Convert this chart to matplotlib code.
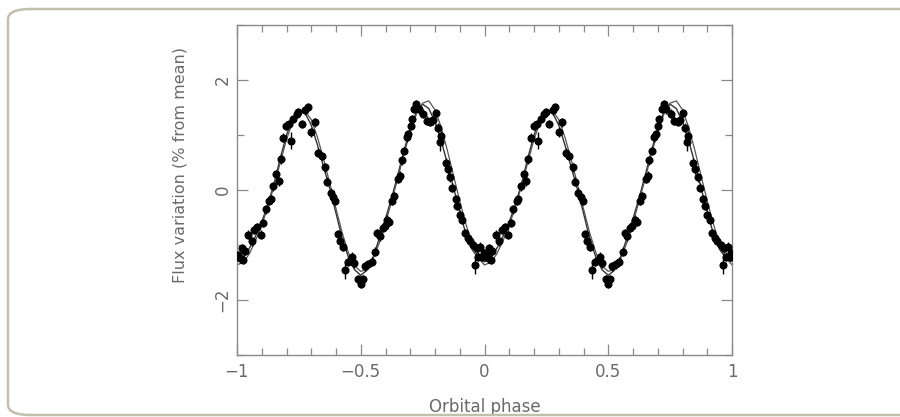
import matplotlib
matplotlib.use("Agg")
import matplotlib.pyplot as plt
from matplotlib.patches import FancyBboxPatch
from matplotlib.ticker import MultipleLocator, FixedLocator

# ---- data (one orbital cycle, phase -1..0; the figure shows it twice) ----
phase = [-0.995, -0.986, -0.981, -0.975, -0.968, -0.954, -0.941, -0.931, -0.918, -0.904,
         -0.894, -0.883, -0.869, -0.863, -0.853, -0.842, -0.832, -0.823, -0.813, -0.802,
         -0.789, -0.783, -0.772, -0.759, -0.752, -0.739, -0.725, -0.714, -0.701, -0.685,
         -0.672, -0.658, -0.644, -0.635, -0.621, -0.611, -0.604, -0.593, -0.584, -0.573,
         -0.564, -0.553, -0.534, -0.527, -0.510, -0.500, -0.492, -0.483, -0.469, -0.456,
         -0.442, -0.433, -0.424, -0.412, -0.404, -0.392, -0.385, -0.372, -0.364, -0.348,
         -0.341, -0.335, -0.325, -0.314, -0.308, -0.298, -0.294, -0.284, -0.276, -0.265,
         -0.247, -0.234, -0.220, -0.210, -0.197, -0.189, -0.180, -0.176, -0.157, -0.149,
         -0.139, -0.130, -0.116, -0.110, -0.099, -0.089, -0.079, -0.068, -0.059, -0.045,
         -0.038, -0.031, -0.025, -0.018, -0.009, -0.004]
flux = [-1.18, -1.24, -1.06, -1.27, -1.10, -0.81, -0.93, -0.72, -0.68, -0.81,
        -0.60, -0.35, -0.20, -0.17, 0.07, 0.29, 0.16, 0.56, 0.95, 1.17,
        1.20, 0.90, 1.29, 1.39, 1.42, 1.20, 1.45, 1.51, 1.05, 1.23,
        0.68, 0.62, 0.41, 0.15, -0.05, -0.13, -0.20, -0.80, -0.93, -1.03,
        -1.45, -1.30, -1.21, -1.33, -1.62, -1.70, -1.62, -1.39, -1.35, -1.30,
        -1.12, -0.79, -0.84, -0.69, -0.66, -0.54, -0.58, -0.20, -0.11, 0.20,
        0.26, 0.54, 0.71, 0.96, 1.02, 1.17, 1.29, 1.48, 1.56, 1.47,
        1.39, 1.26, 1.24, 1.27, 1.40, 1.13, 0.87, 0.99, 0.50, 0.38,
        0.23, 0.04, -0.17, -0.29, -0.45, -0.54, -0.78, -0.87, -0.93, -1.00,
        -1.36, -1.06, -1.21, -1.03, -1.21, -1.15]
flux_err = [0.08] * len(phase)
for i, p in enumerate(phase):
    if p in (-0.564, -0.038, -0.180, -0.783):
        flux_err[i] = 0.16

# ---- model curves, sampled every 0.025 in phase over one cycle ----
model_phase = [k * 0.025 for k in range(41)]
model_a = [-1.30, -1.24, -1.06, -0.84, -0.58, -0.26, 0.12, 0.58, 1.00, 1.30,
           1.44, 1.40, 1.18, 0.82, 0.42, 0.02, -0.42, -0.88, -1.22, -1.45,
           -1.55, -1.46, -1.22, -0.88, -0.52, -0.14, 0.28, 0.72, 1.12, 1.42,
           1.56, 1.48, 1.24, 0.90, 0.48, 0.04, -0.40, -0.80, -1.08, -1.24,
           -1.30]
model_b = [-1.36, -1.32, -1.16, -0.92, -0.64, -0.30, 0.08, 0.50, 0.92, 1.24,
           1.42, 1.44, 1.28, 0.96, 0.56, 0.12, -0.34, -0.78, -1.14, -1.38,
           -1.48, -1.44, -1.26, -0.96, -0.60, -0.20, 0.22, 0.66, 1.06, 1.38,
           1.58, 1.62, 1.46, 1.14, 0.72, 0.26, -0.20, -0.62, -0.98, -1.24,
           -1.36]

xticks = [-1, -0.5, 0, 0.5, 1]
xticklabels = ["\u22121", "\u22120.5", "0", "0.5", "1"]
yticks = [-2, 0, 2]
yticklabels = ["\u22122", "0", "2"]

TXT = "#6a6a6a"
AX = "#8a8a8a"

fig = plt.figure(figsize=(9, 4.17), dpi=100)
fig.patch.set_facecolor("white")

# rounded frame around the figure
W, H = 900.0, 417.0
frame = FancyBboxPatch((8 / W, 2 / H), 960 / W, 406 / H,
                       boxstyle="round,pad=0,rounding_size=0.025",
                       transform=fig.transFigure, fill=False,
                       edgecolor="#c2bfad", linewidth=1.8, clip_on=False)
fig.patches.append(frame)

ax = fig.add_axes([237 / W, 1 - 355 / H, 495 / W, 330 / H])

for shift in (-1, 0):
    ax.plot([p + shift for p in model_phase], model_a, color="#333333", lw=1.0, zorder=2)
    ax.plot([p + shift for p in model_phase], model_b, color="#555555", lw=0.9, zorder=2)
for shift in (0, 1):
    ax.errorbar([p + shift for p in phase], flux, yerr=flux_err, fmt="o",
                color="black", ms=4.8, elinewidth=1.0, capsize=0, zorder=3)

ax.set_xlim(-1, 1)
ax.set_ylim(-3, 3)
ax.xaxis.set_major_locator(FixedLocator(xticks))
ax.set_xticklabels(xticklabels)
ax.xaxis.set_minor_locator(MultipleLocator(0.1))
ax.yaxis.set_major_locator(FixedLocator(yticks))
ax.set_yticklabels(yticklabels, rotation=90, va="center")
ax.yaxis.set_minor_locator(MultipleLocator(1))

ax.tick_params(which="both", direction="in", top=True, right=True,
               color=AX, labelcolor=TXT, labelsize=12, width=0.9)
ax.tick_params(axis="x", which="major", length=8, pad=6)
ax.tick_params(axis="y", which="major", length=8, pad=4)
ax.tick_params(which="minor", length=5)
for s in ax.spines.values():
    s.set_color(AX)
    s.set_linewidth(1.0)

ax.set_xlabel("Orbital phase", color=TXT, fontsize=12, labelpad=12)
ax.set_ylabel("Flux variation (% from mean)", color=TXT, fontsize=11.5)
ax.yaxis.set_label_coords(-0.1, 0.575)

fig.savefig("out.png", dpi=100)
